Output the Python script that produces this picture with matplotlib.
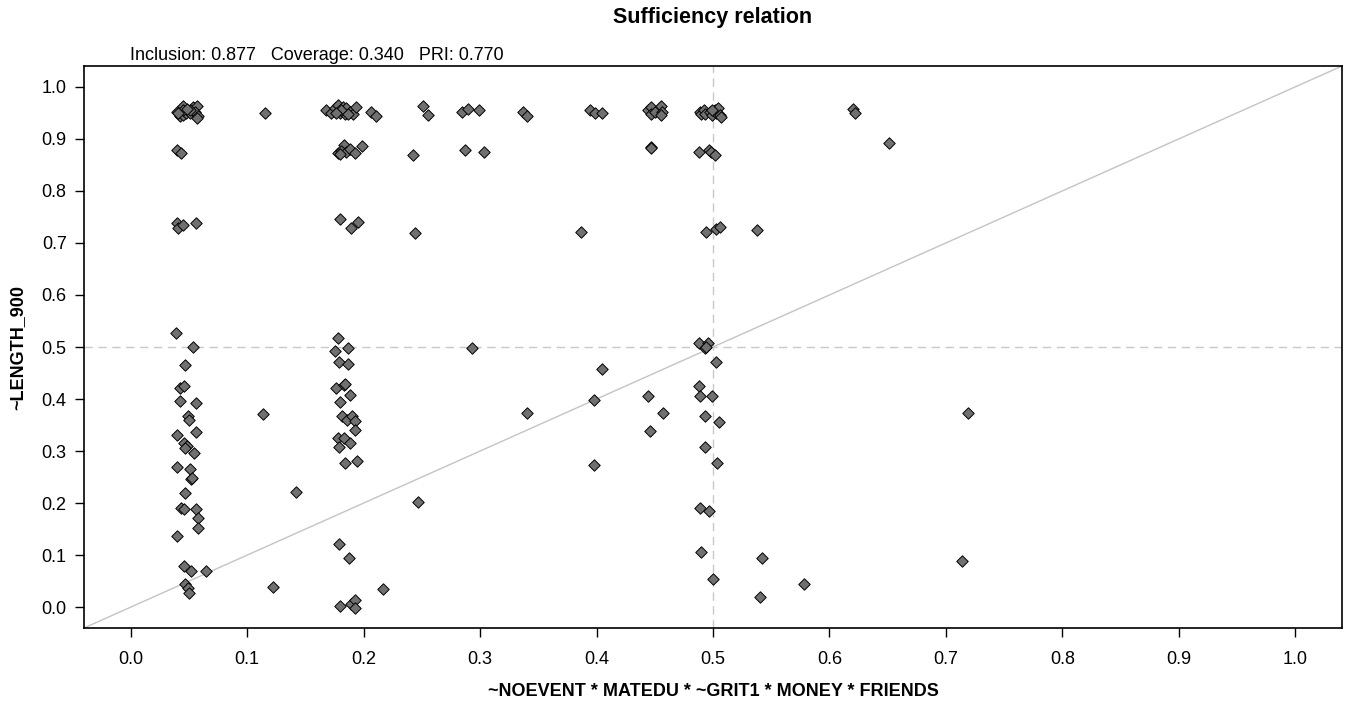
import matplotlib
matplotlib.use("Agg")
import matplotlib.pyplot as plt

plt.rcParams['font.family'] = ['Liberation Sans', 'DejaVu Sans']

title = "Sufficiency relation"
stats_text = "Inclusion: 0.877   Coverage: 0.340   PRI: 0.770"
x_label = "~NOEVENT * MATEDU * ~GRIT1 * MONEY * FRIENDS"
y_label = "~LENGTH_900"
tick_values = [0.0, 0.1, 0.2, 0.3, 0.4, 0.5, 0.6, 0.7, 0.8, 0.9, 1.0]

# cases (jittered), top band ~0.95
x_top = [0.0397, 0.0425, 0.0454, 0.0448, 0.0477, 0.0511, 0.0540, 0.0574, 0.0557, 0.0582,
         0.0568, 0.0454, 0.0411, 0.0511, 0.0480, 0.1153, 0.1680, 0.1724, 0.1752, 0.1780,
         0.1796, 0.1824, 0.1838, 0.1852, 0.1880, 0.1910, 0.1937, 0.1810, 0.1767, 0.1867,
         0.2067, 0.2110, 0.2509, 0.2557, 0.2842, 0.2894, 0.2988, 0.3365, 0.3400, 0.3944,
         0.3986, 0.4044, 0.4443, 0.4466, 0.4472, 0.4500, 0.4552, 0.4563, 0.4552, 0.4886,
         0.4894, 0.4923, 0.4934, 0.4971, 0.4991, 0.5014, 0.5028, 0.5043, 0.5057, 0.5071,
         0.4994, 0.6199, 0.6222]
y_top = [0.9525, 0.943, 0.9635, 0.946, 0.949, 0.949, 0.962, 0.964, 0.9525, 0.944,
         0.941, 0.955, 0.949, 0.955, 0.958, 0.949, 0.9545, 0.950, 0.9585, 0.965,
         0.949, 0.962, 0.948, 0.9585, 0.9525, 0.948, 0.9605, 0.955, 0.949, 0.947,
         0.9525, 0.944, 0.9635, 0.946, 0.951, 0.957, 0.9545, 0.9525, 0.944, 0.9545,
         0.9506, 0.949, 0.9545, 0.962, 0.948, 0.9525, 0.9635, 0.951, 0.946, 0.9525,
         0.948, 0.955, 0.948, 0.9525, 0.946, 0.955, 0.949, 0.959, 0.946, 0.9425,
         0.955, 0.957, 0.949]

# band ~0.875
x_mid1 = [0.0397, 0.0434, 0.1830, 0.1780, 0.1810, 0.1852, 0.1880, 0.1930, 0.1990, 0.1796,
          0.2423, 0.2870, 0.3030, 0.4466, 0.4470, 0.4880, 0.4963, 0.4986, 0.5020, 0.6513]
y_mid1 = [0.879, 0.8725, 0.8885, 0.8725, 0.8775, 0.8755, 0.880, 0.8725, 0.8865, 0.870,
          0.869, 0.879, 0.8755, 0.885, 0.882, 0.8755, 0.879, 0.874, 0.869, 0.8917]

# band ~0.73
x_mid2 = [0.0397, 0.0410, 0.0448, 0.0560, 0.1800, 0.1890, 0.1950, 0.2440, 0.3865, 0.4943,
          0.5028, 0.5057, 0.5377]
y_mid2 = [0.738, 0.728, 0.7346, 0.738, 0.7455, 0.7295, 0.740, 0.7185, 0.7205, 0.7205,
          0.727, 0.7314, 0.7258]

# lower half
x_low = [0.0388, 0.0540, 0.0470, 0.0425, 0.0460, 0.0425, 0.0560, 0.0497, 0.0500, 0.0400,
         0.0560, 0.0460, 0.0480, 0.0470, 0.0545, 0.0400, 0.0510, 0.0516, 0.0530, 0.0470,
         0.0430, 0.0460, 0.0560, 0.0580, 0.0580, 0.0400, 0.0460, 0.0520, 0.0650, 0.0470,
         0.0490, 0.0500, 0.1140, 0.1420, 0.1224,
         0.1780, 0.1758, 0.1866, 0.1790, 0.1866, 0.1767, 0.1832, 0.1844, 0.1887, 0.1800,
         0.1817, 0.1860, 0.1900, 0.1930, 0.1930, 0.1780, 0.1830, 0.1880, 0.1790, 0.1840,
         0.1940, 0.2470, 0.2928, 0.3400, 0.1790, 0.1875, 0.2166, 0.1800, 0.1890, 0.1926,
         0.1926,
         0.4044, 0.3980, 0.3980, 0.4440, 0.4575, 0.4458, 0.4880, 0.4957, 0.4934, 0.4943,
         0.5026, 0.4880, 0.4891, 0.4988, 0.4928, 0.5048, 0.4928, 0.5034, 0.4890, 0.4963,
         0.4900, 0.5000, 0.5420, 0.5400, 0.5785, 0.7190, 0.7140]
y_low = [0.5275, 0.5006, 0.465, 0.422, 0.425, 0.397, 0.392, 0.368, 0.360, 0.330,
         0.336, 0.315, 0.310, 0.306, 0.297, 0.270, 0.265, 0.247, 0.249, 0.219,
         0.191, 0.188, 0.188, 0.172, 0.153, 0.137, 0.0795, 0.069, 0.069, 0.0455,
         0.0365, 0.0275, 0.371, 0.2205, 0.039,
         0.517, 0.492, 0.498, 0.4705, 0.468, 0.422, 0.4265, 0.428, 0.408, 0.395,
         0.367, 0.360, 0.367, 0.357, 0.340, 0.325, 0.3245, 0.316, 0.3077, 0.2775,
         0.281, 0.202, 0.498, 0.373, 0.1205, 0.0936, 0.034, 0.0032, 0.006, 0.0135,
         -0.002,
         0.457, 0.3975, 0.2725, 0.405, 0.373, 0.338, 0.508, 0.507, 0.4975, 0.5006,
         0.4705, 0.4244, 0.405, 0.405, 0.367, 0.356, 0.3077, 0.2775, 0.191, 0.1853,
         0.107, 0.055, 0.0936, 0.020, 0.044, 0.373, 0.088]

x_all = x_top + x_mid1 + x_mid2 + x_low
y_all = y_top + y_mid1 + y_mid2 + y_low

fig = plt.figure(figsize=(13.48, 7.06), dpi=100)
ax = fig.add_axes([84 / 1348, 1 - 628 / 706, (1342 - 84) / 1348, (628 - 66) / 706])

ax.set_xlim(-0.04, 1.04)
ax.set_ylim(-0.04, 1.04)

# reference lines
ax.plot([-0.04, 1.04], [-0.04, 1.04], color="#c4c4c4", lw=1.0, zorder=1)
ax.axvline(0.5, color="#c8c8c8", lw=1.0, ls=(0, (6, 4)), zorder=1)
ax.axhline(0.5, color="#c8c8c8", lw=1.0, ls=(0, (6, 4)), zorder=1)

ax.scatter(x_all, y_all, marker="D", s=34, facecolor="#707070",
           edgecolor="black", linewidth=0.7, zorder=3)

ax.set_xticks(tick_values)
ax.set_yticks(tick_values)
ax.set_xticklabels([f"{v:.1f}" for v in tick_values])
ax.set_yticklabels([f"{v:.1f}" for v in tick_values])
ax.tick_params(axis="both", direction="out", length=6.5, width=1.0, labelsize=13)
ax.tick_params(axis="x", pad=10)
ax.tick_params(axis="y", pad=6)
for sp in ax.spines.values():
    sp.set_linewidth(1.2)

fig.text(713 / 1348, 1 - 18 / 706, title, ha="center", va="center",
         fontsize=15.5, fontweight="bold")
fig.text(130 / 1348, 1 - 55 / 706, stats_text, ha="left", va="center", fontsize=13)
fig.text(713 / 1348, 1 - 691 / 706, x_label, ha="center", va="center",
         fontsize=13, fontweight="bold")
fig.text(18 / 1348, 1 - 347 / 706, y_label, ha="center", va="center",
         fontsize=13, fontweight="bold", rotation=90)

fig.savefig("out.png", dpi=100)
